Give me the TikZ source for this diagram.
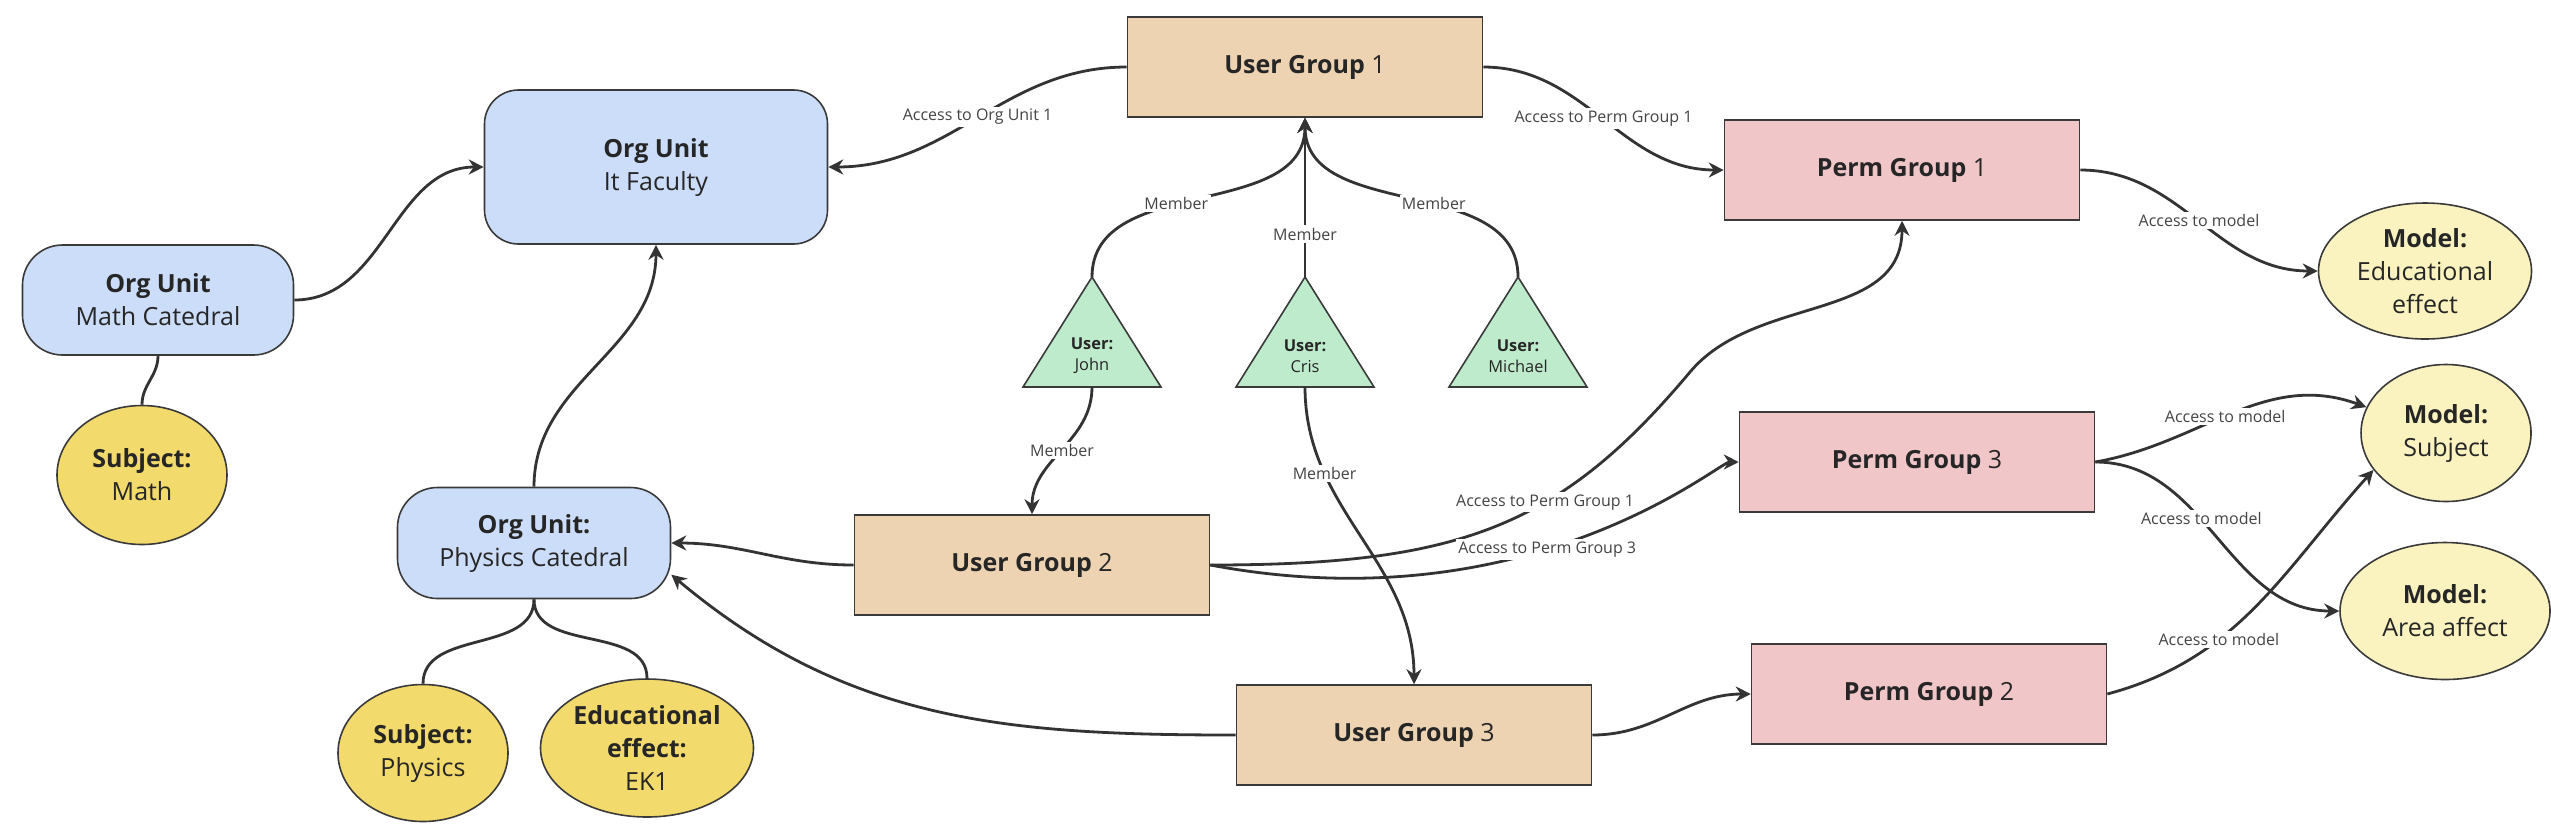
\documentclass[tikz,border=0pt]{standalone}
\usepackage{fontspec}
\setmainfont{Open Sans}
\usetikzlibrary{arrows.meta,shapes.geometric}
\definecolor{oufill}{HTML}{CCDDFA}
\definecolor{ugfill}{HTML}{EDD3B1}
\definecolor{pgfill}{HTML}{F1C6C8}
\definecolor{modelfill}{HTML}{FAF3BF}
\definecolor{subjfill}{HTML}{F2DA6C}
\definecolor{trifill}{HTML}{BDEBCB}
\definecolor{linec}{HTML}{333333}
\definecolor{borderc}{HTML}{3A3A3A}
\definecolor{txtc}{HTML}{262626}
\definecolor{lblc}{HTML}{444444}
\tikzset{
  base/.style={draw=borderc, line width=0.8pt, text=txtc, align=center,
    font=\fontsize{12.5}{16.5}\selectfont},
  ou/.style={base, fill=oufill, rounded corners=20pt},
  ug/.style={base, fill=ugfill, minimum width=177.5pt, minimum height=50pt},
  pg/.style={base, fill=pgfill, minimum width=177.5pt, minimum height=50pt},
  model/.style={base, ellipse, fill=modelfill, inner sep=0pt},
  subj/.style={base, ellipse, fill=subjfill, inner sep=0pt},
  tri/.style={draw=borderc, line width=0.8pt, fill=trifill},
  utext/.style={text=txtc, align=center, font=\fontsize{8.2}{10.5}\selectfont, inner sep=0pt},
  conn/.style={draw=linec, line width=1.4pt},
  arr/.style={conn, -{Stealth[length=7.5pt,width=7.5pt,inset=2.5pt]}},
  lbl/.style={fill=white, text=lblc, inner sep=1.2pt, font=\fontsize{8}{9}\selectfont}
}
\begin{document}
\begin{tikzpicture}[x=0.5pt,y=0.5pt]
\useasboundingbox (0,0) rectangle (2551,-826);

% Org units
\node[ou, minimum width=171.5pt, minimum height=77pt, rounded corners=17pt] (it) at (656,-167) {\textbf{Org Unit}\\It Faculty};
\node[ou, minimum width=135.5pt, minimum height=55pt] (math) at (158,-300) {\textbf{Org Unit}\\Math Catedral};
\node[ou, minimum width=136.5pt, minimum height=55.5pt] (phys) at (534,-543) {\textbf{Org Unit:}\\Physics Catedral};

% Subjects
\node[subj, minimum width=85pt, minimum height=69.5pt] (smath) at (142,-475) {\textbf{Subject:}\\Math};
\node[subj, minimum width=85pt, minimum height=68.5pt] (sphys) at (423,-753) {\textbf{Subject:}\\Physics};
\node[subj, minimum width=106.5pt, minimum height=69pt] (sedu) at (647,-748) {\textbf{Educational}\\\textbf{effect:}\\EK1};

% User groups
\node[ug] (ug1) at (1305,-67) {\textbf{User Group} 1};
\node[ug] (ug2) at (1032,-565) {\textbf{User Group} 2};
\node[ug] (ug3) at (1414,-735) {\textbf{User Group} 3};

% Perm groups
\node[pg] (pg1) at (1902,-170) {\textbf{Perm Group} 1};
\node[pg] (pg3) at (1917,-462) {\textbf{Perm Group} 3};
\node[pg] (pg2) at (1929,-694) {\textbf{Perm Group} 2};

% Models
\node[model, minimum width=106.5pt, minimum height=68pt] (medu) at (2425,-271) {\textbf{Model:}\\Educational\\effect};
\node[model, minimum width=85pt, minimum height=68.5pt] (msubj) at (2446,-433) {\textbf{Model:}\\Subject};
\node[model, minimum width=105pt, minimum height=68.5pt] (marea) at (2445,-611) {\textbf{Model:}\\Area affect};

% Users (triangles)
\coordinate (johntop) at (1092,-277);
\coordinate (johnbot) at (1092,-387);
\coordinate (cristop) at (1305,-277);
\coordinate (crisbot) at (1305,-387);
\coordinate (michaeltop) at (1518,-277);
\coordinate (michaelbot) at (1518,-387);
\draw[tri] (1023,-387) -- (johntop) -- (1161,-387) -- cycle;
\draw[tri] (1236,-387) -- (cristop) -- (1374,-387) -- cycle;
\draw[tri] (1449,-387) -- (michaeltop) -- (1587,-387) -- cycle;
\node[utext] (john) at (1092,-356) {\textbf{User:}\\John};
\node[utext] (cris) at (1305,-356) {\textbf{User:}\\Cris};
\node[utext] (michael) at (1518,-356) {\textbf{User:}\\Michael};

\coordinate (w1) at (1690,-372);

% Connectors
\draw[arr] (math.east) to[out=0,in=180] (it.west);
\draw[conn] (math.south) to[out=-90,in=90] (smath.north);
\draw[arr] (phys.north) to[out=90,in=-90] (it.south);
\draw[conn] (phys.south) to[out=-90,in=90] (sphys.north);
\draw[conn] (phys.south) to[out=-90,in=90] (sedu.north);

\draw[arr] (ug1.west) to[out=180,in=0] node[lbl]{Access to Org Unit 1} (it.east);
\draw[arr] (ug1.east) to[out=0,in=180] node[lbl]{Access to Perm Group 1} (pg1.west);

\draw[arr] (johntop) to[out=90,in=-90] node[lbl,pos=0.43]{Member} (ug1.south);
\draw[arr] (cristop) -- node[lbl,pos=0.27]{Member} (ug1.south);
\draw[arr] (michaeltop) to[out=90,in=-90] node[lbl,pos=0.43]{Member} (ug1.south);
\draw[arr] (johnbot) to[out=-90,in=90] node[lbl]{Member} (ug2.north);
\draw[arr] (crisbot) to[out=-90,in=90] node[lbl,pos=0.27]{Member} (ug3.north);

\draw[arr] (ug2.west) to[out=180,in=0] (phys.east);
\draw[arr] (ug3.west) to[out=180,in=-40] (phys.-13);

\draw[arr] (ug2.east) to[out=0,in=230,out distance=125pt,in distance=101pt] node[lbl,pos=0.62]{Access to Perm Group 1} (w1) to[out=50,in=-90] (pg1.south);
\draw[arr] (ug2.east) .. controls +(320,-60) and +(-20,0) .. (pg3.west) node[lbl,pos=0.43]{Access to Perm Group 3};
\draw[arr] (ug3.east) to[out=0,in=180] (pg2.west);

\draw[arr] (pg1.east) to[out=0,in=180] node[lbl]{Access to model} (medu.west);
\draw[arr] (pg3.east) to[out=10,in=160] node[lbl,pos=0.47]{Access to model} (msubj.162);
\draw[arr] (pg3.east) to[out=0,in=180] node[lbl,pos=0.42]{Access to model} (marea.west);
\draw[arr] (pg2.east) to[out=15,in=228] node[lbl,pos=0.35]{Access to model} (msubj.207);
\end{tikzpicture}
\end{document}
